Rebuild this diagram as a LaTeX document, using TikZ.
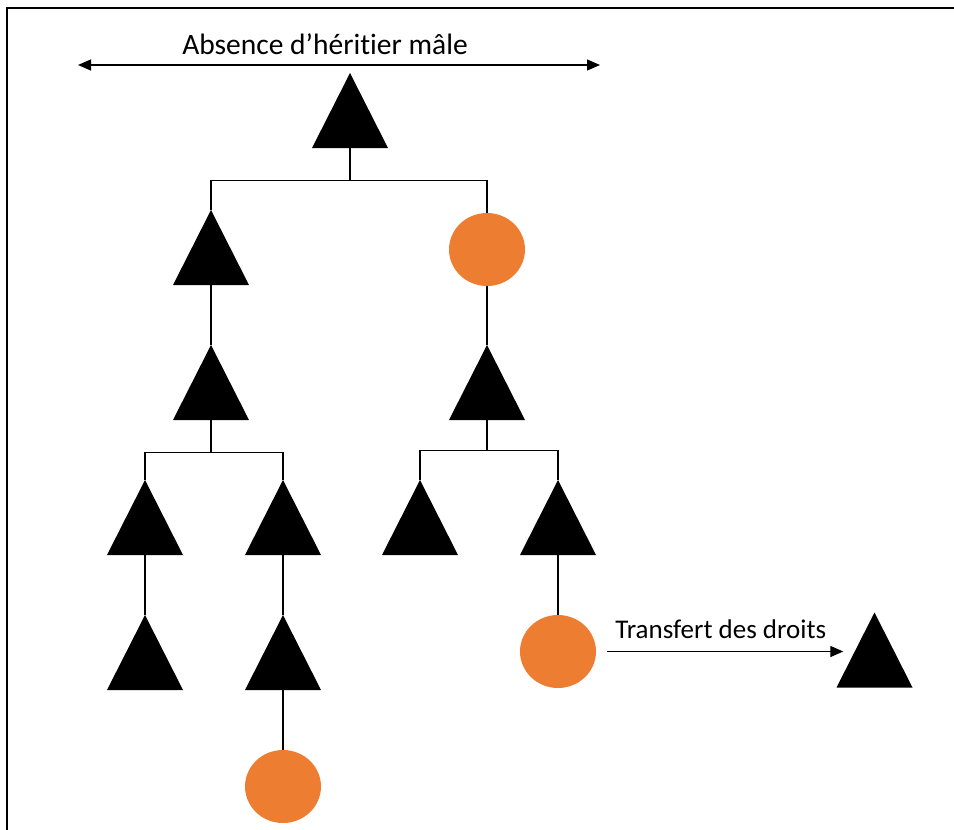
\documentclass[tikz,border=0pt]{standalone}
\usepackage{fontspec}
\setmainfont{Carlito}[Ligatures=NoCommon]
\usetikzlibrary{shapes.geometric,arrows.meta}
\definecolor{heirorange}{HTML}{ED7D31}
\tikzset{
  male/.style={minimum width=76pt, minimum height=75pt, inner sep=0pt,
    path picture={\fill (path picture bounding box.north) -- (path picture bounding box.south east) -- (path picture bounding box.south west) -- cycle;}},
  female/.style={ellipse, fill=heirorange, minimum width=76pt, minimum height=73pt, inner sep=0pt},
  link/.style={line width=1.2pt},
  tip/.style={-{Triangle[length=13pt,width=11pt]}},
  lbl/.style={font=\fontsize{27}{32}\selectfont, inner sep=0pt}
}
\begin{document}
\begin{tikzpicture}[x=1pt,y=-1pt]
\useasboundingbox (0,0) rectangle (954,830);
\draw[line width=2.5pt] (954,8) -- (7,8) -- (7,830);

% Title and its arrow
\node[lbl,font=\fontsize{29.5}{35}\selectfont] (title) at (325,44) {Absence d’héritier mâle};
\coordinate (lend) at (78,65);
\coordinate (rend) at (600,65);
\draw[link,{Triangle[length=13pt,width=11pt]}-{Triangle[length=13pt,width=11pt]}] (lend) -- (rend);

% Family tree
\node[male] (top) at (350,110.5) {};
\node[male] (l1) at (211,247.5) {};
\node[female] (r1) at (487,249.5) {};
\node[male] (l2) at (211,382.5) {};
\node[male] (r2) at (487,382.5) {};
\node[male] (l3a) at (145,517.5) {};
\node[male] (l3b) at (283,517.5) {};
\node[male] (r3a) at (420,517.5) {};
\node[male] (r3b) at (558,517.5) {};
\node[male] (l4a) at (145,652.5) {};
\node[male] (l4b) at (283,652.5) {};
\node[female] (l5) at (283,786.5) {};
\node[female] (r4) at (558,651.5) {};
\node[male] (far) at (874.5,650) {};

\draw[link] (top.south) -- ++(0,32) coordinate (j1);
\draw[link] (l1.north) |- (j1) -| (r1.north);
\draw[link] (l1.south) -- (l2.north);
\draw[link] (r1.south) -- (r2.north);
\draw[link] (l2.south) -- ++(0,32) coordinate (j2);
\draw[link] (l3a.north) |- (j2) -| (l3b.north);
\draw[link] (r2.south) -- ++(0,30) coordinate (j3);
\draw[link] (r3a.north) |- (j3) -| (r3b.north);
\draw[link] (l3a.south) -- (l4a.north);
\draw[link] (l3b.south) -- (l4b.north);
\draw[link] (l4b.south) -- (l5.north);
\draw[link] (r3b.south) -- (r4.north);

% Transfer of rights
\draw[link,tip,shorten <=11pt,shorten >=-7pt] (r4.east) -- (r4.east -| far.west)
  node[lbl,midway,above=12pt,xshift=4.5pt] (transfer) {Transfert des droits};
\end{tikzpicture}
\end{document}
